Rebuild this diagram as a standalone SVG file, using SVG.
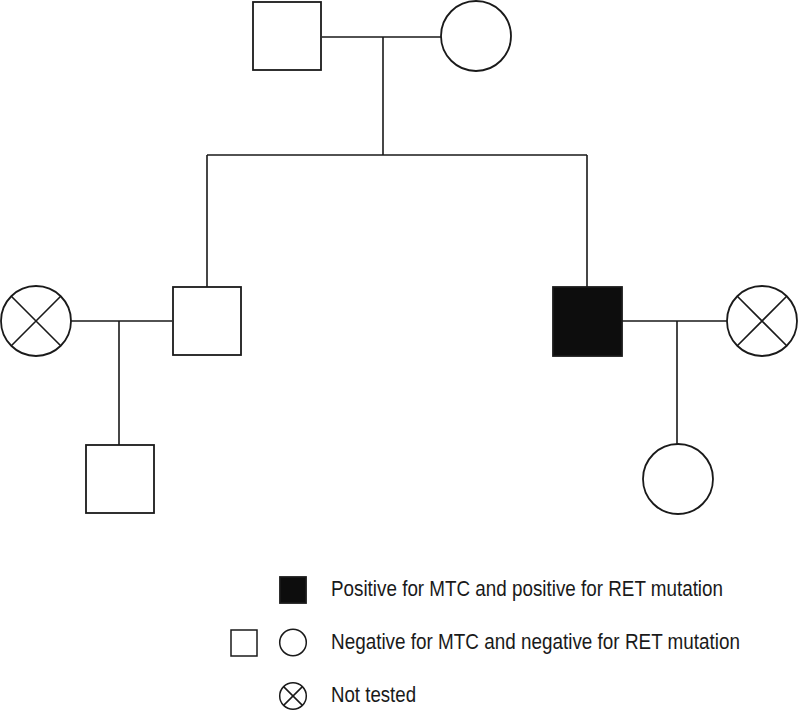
<svg xmlns="http://www.w3.org/2000/svg" width="798" height="711" viewBox="0 0 798 711">
<style>
.s{fill:#fff;stroke:#1a1a1a;stroke-width:1.8}
.f{fill:#0d0d0d;stroke:#1a1a1a;stroke-width:1.8}
.l{fill:none;stroke:#1a1a1a;stroke-width:1.6}
.t{font-family:"Liberation Sans",Arial,sans-serif;font-size:21.5px;fill:#1a1a1a}
</style>
<rect width="798" height="711" fill="#fff"/>
<g id="connectors">
<path class="l" d="M322 37H441M383 37V155M207 155H587M207 155V287M587 155V287"/>
<path class="l" d="M71 321H172M119 321V445"/>
<path class="l" d="M622 321H727M677 321V444"/>
</g>
<g id="grandfather"><rect class="s" x="253" y="2" width="68" height="68"/></g>
<g id="grandmother"><circle class="s" cx="476" cy="36" r="35"/></g>
<g id="son-left"><rect class="s" x="173" y="287" width="68" height="68"/></g>
<g id="wife-left"><circle class="s" cx="36" cy="321" r="35"/><path class="l" d="M11.3 296.3L60.7 345.7M60.7 296.3L11.3 345.7"/></g>
<g id="grandson"><rect class="s" x="86" y="445" width="68" height="68"/></g>
<g id="son-right"><rect class="f" x="553" y="287" width="69" height="69"/></g>
<g id="wife-right"><circle class="s" cx="762" cy="321" r="35"/><path class="l" d="M737.3 296.3L786.7 345.7M786.7 296.3L737.3 345.7"/></g>
<g id="granddaughter"><circle class="s" cx="678" cy="479" r="35"/></g>
<g id="legend">
<rect class="f" x="280" y="577" width="26" height="26"/>
<text class="t" x="331" y="596" textLength="392" lengthAdjust="spacingAndGlyphs">Positive for MTC and positive for RET mutation</text>
<rect class="s" x="231" y="630" width="26" height="26" style="stroke-width:1.5"/>
<circle class="s" cx="293" cy="642.5" r="13.3" style="stroke-width:1.5"/>
<text class="t" x="331" y="649" textLength="409" lengthAdjust="spacingAndGlyphs">Negative for MTC and negative for RET mutation</text>
<circle class="s" cx="293" cy="696" r="13.3" style="stroke-width:1.5"/>
<path class="l" d="M283.6 686.6L302.4 705.4M302.4 686.6L283.6 705.4" style="stroke-width:1.5"/>
<text class="t" x="331" y="702" textLength="85" lengthAdjust="spacingAndGlyphs">Not tested</text>
</g>
</svg>
